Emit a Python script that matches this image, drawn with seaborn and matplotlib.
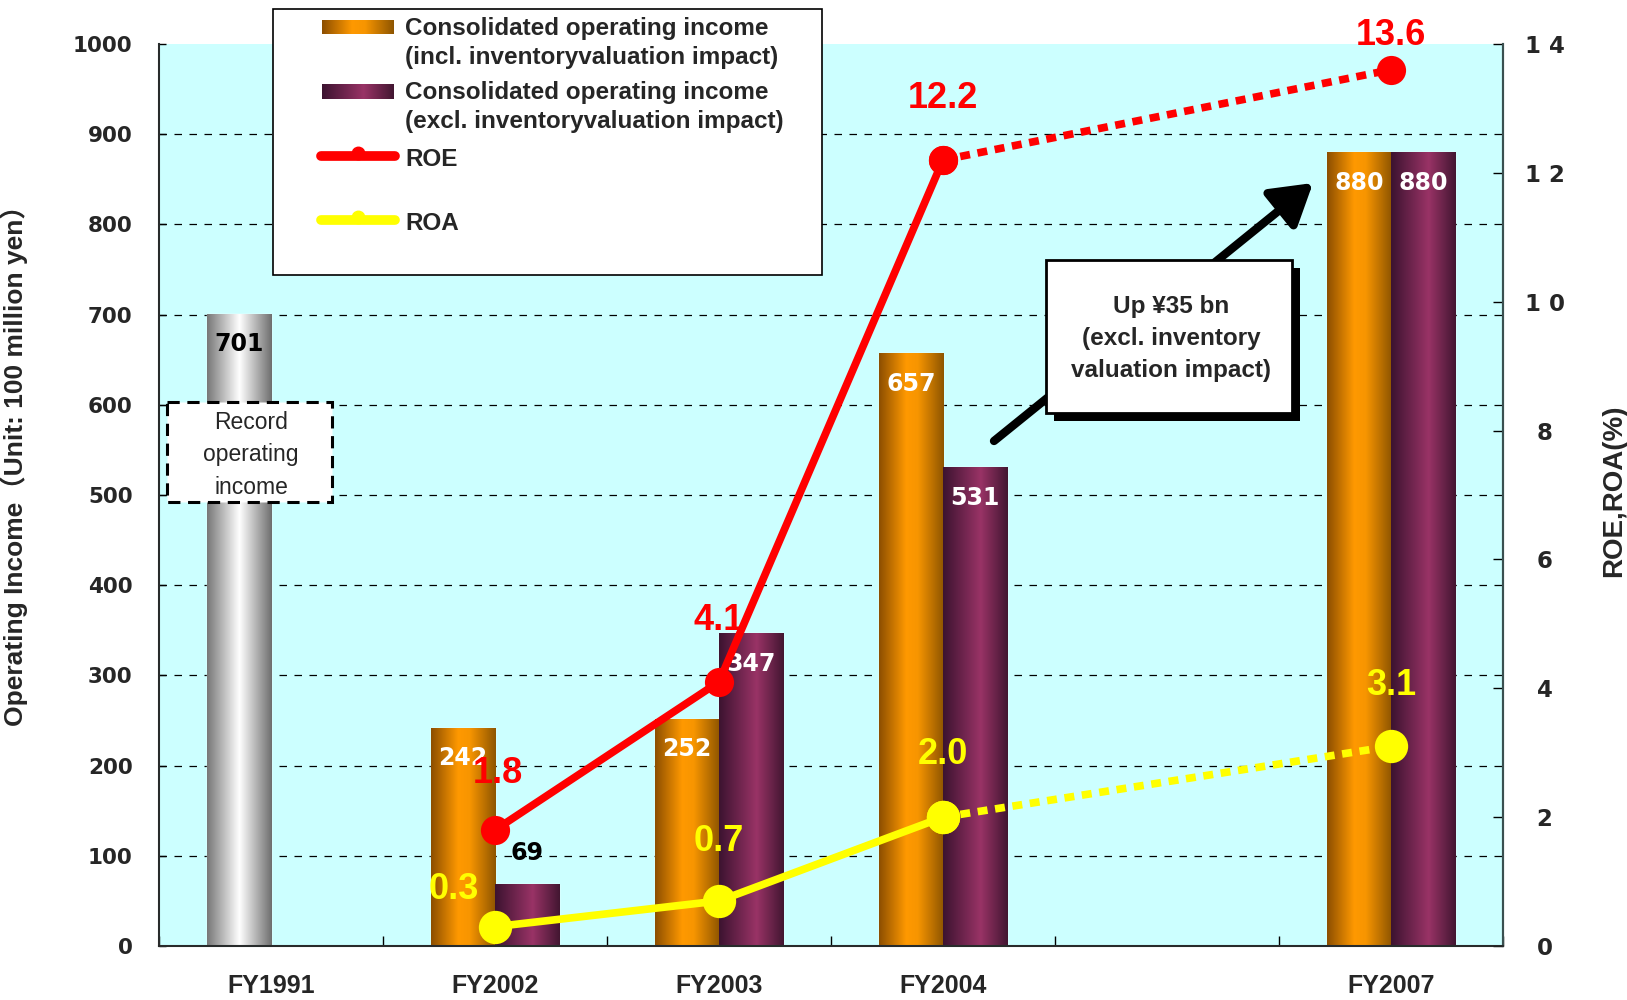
import numpy as np
import pandas as pd
import matplotlib
matplotlib.use("Agg")
import matplotlib.pyplot as plt
import seaborn as sns
from matplotlib.colors import LinearSegmentedColormap
from matplotlib.patches import Rectangle
from matplotlib.lines import Line2D

# ---------------- data ----------------
years = ["FY1991", "FY2002", "FY2003", "FY2004", " ", "FY2007"]
bar_years = ["FY1991", "FY2002", "FY2003", "FY2004", "FY2007"]
income_incl = [701, 242, 252, 657, 880]       # FY1991 = record operating income
income_excl = [None, 69, 347, 531, 880]
ratio_years = ["FY2002", "FY2003", "FY2004", "FY2007"]
roe = [1.8, 4.1, 12.2, 13.6]
roa = [0.3, 0.7, 2.0, 3.1]
left_ticks = list(range(0, 1001, 100))
right_ticks = [0, 2, 4, 6, 8, 10, 12, 14]
right_tick_labels = ["0", "2", "4", "6", "8", "1 0", "1 2", "1 4"]
legend_labels = ["Consolidated operating income\n(incl. inventoryvaluation impact)",
                 "Consolidated operating income\n(excl. inventoryvaluation impact)",
                 "ROE", "ROA"]
ylabel_left = "Operating Income（Unit: 100 million yen）"
ylabel_right = "ROE,ROA(%)"
note_up = "Up ¥35 bn\n(excl. inventory\nvaluation impact)"
note_record = "Record\noperating\nincome"

rows = []
for y, v in zip(bar_years, income_incl):
    rows.append((y, "incl", v))
for y, v in zip(bar_years, income_excl):
    if v is not None:
        rows.append((y, "excl", v))
df = pd.DataFrame(rows, columns=["year", "series", "value"])

# ---------------- style ----------------
sns.set_theme(style="white")
plt.rcParams["font.family"] = ["Liberation Sans", "DejaVu Sans"]

W, H = 1627, 1000
fig = plt.figure(figsize=(W / 100, H / 100), dpi=100)
L, R, T, B = 159, 1503, 44, 946
ax = fig.add_axes([L / W, 1 - B / H, (R - L) / W, (B - T) / H])
ax.set_facecolor("#CCFFFF")
SPINE = "#3A5050"

ORANGE, PURPLE = "#FF9900", "#993366"
sns.barplot(data=df, x="year", y="value", hue="series", order=years,
            hue_order=["incl", "excl"], palette=[ORANGE, PURPLE], width=0.575,
            errorbar=None, saturation=1, legend=False, ax=ax, zorder=2)

cm_orange = LinearSegmentedColormap.from_list(
    "o", [(0, "#8C4E00"), (0.42, "#FF9900"), (0.6, "#F79500"), (1, "#8E5500")])
cm_purple = LinearSegmentedColormap.from_list(
    "p", [(0, "#3C1330"), (0.58, "#993366"), (1, "#421631")])
cm_gray = LinearSegmentedColormap.from_list(
    "g", [(0, "#777777"), (0.5, "#FFFFFF"), (1, "#6E6E6E")])

grad = np.linspace(0, 1, 256).reshape(1, -1)
for ci, cont in enumerate(ax.containers):
    for p in cont:
        h = p.get_height()
        if h is None or np.isnan(h) or h == 0:
            continue
        x0, w = p.get_x(), p.get_width()
        cx = x0 + w / 2
        if ci == 0 and cx < 0.5:
            cmap = cm_gray
        else:
            cmap = cm_orange if ci == 0 else cm_purple
        im = ax.imshow(grad, cmap=cmap, aspect="auto", extent=[x0, x0 + w, 0, h],
                       origin="lower", zorder=2.1, interpolation="bilinear")
        im.set_clip_path(p)
        val = int(round(h))
        if cx < 0.5:
            col, dy = "black", -22
        elif val < 100:
            col, dy = "black", 22
        else:
            col, dy = "white", -22
        ax.annotate(str(val), (cx, h), xytext=(0, dy), textcoords="offset points",
                    ha="center", va="center", color=col, fontsize=17,
                    fontweight="bold", family="DejaVu Sans", zorder=3)

ax.set_xlim(-0.5, 5.5)
ax.set_ylim(0, 1000)
ax.set_yticks(left_ticks)
ax.set_xticks(range(len(years)))
ax.set_xticklabels(years)
ax.set_xticks(np.arange(-0.5, len(years)), minor=True)
ax.tick_params(axis="x", which="major", length=0, pad=20, labelsize=18)
ax.tick_params(axis="x", which="minor", direction="in", length=7, width=1, color="black", bottom=True)
ax.tick_params(axis="y", direction="in", length=5, width=1, color="black", pad=19, labelsize=15.5, left=True)
for t in ax.get_xticklabels():
    t.set_fontweight("bold")
for t in ax.get_yticklabels():
    t.set_fontweight("bold")
    t.set_family("DejaVu Sans")
ax.grid(False)
for gy in left_ticks[1:-1]:
    ax.axhline(gy, color="black", linestyle=(0, (6, 6)), linewidth=0.9, zorder=1)
for s in ["left", "bottom", "right"]:
    ax.spines[s].set_color(SPINE)
    ax.spines[s].set_linewidth(1.5)
ax.spines["top"].set_visible(False)
ax.set_xlabel("")
ax.set_ylabel(ylabel_left, fontsize=19, fontweight="bold",
              family=["Liberation Sans", "Noto Sans CJK JP"])
ax.yaxis.set_label_coords(-0.0975, 0.54)

# ---------------- ratio lines ----------------
ax2 = ax.twinx()
pos = [years.index(y) for y in ratio_years]
lw = 5.5
sns.lineplot(x=pos[:3], y=roe[:3], ax=ax2, color="red", linewidth=lw, marker="o",
             markersize=21, markeredgewidth=0, zorder=5)
sns.lineplot(x=pos[2:], y=roe[2:], ax=ax2, color="red", linewidth=lw, marker="o",
             markersize=21, markeredgewidth=0, linestyle=(0, (1.3, 1.0)), zorder=5)
sns.lineplot(x=pos[:3], y=roa[:3], ax=ax2, color="#FFFF00", linewidth=lw, marker="o",
             markersize=24, markeredgewidth=0, zorder=4)
sns.lineplot(x=pos[2:], y=roa[2:], ax=ax2, color="#FFFF00", linewidth=lw, marker="o",
             markersize=24, markeredgewidth=0, linestyle=(0, (1.3, 1.0)), zorder=4)
for line in ax2.get_lines():
    line.set_dash_capstyle("butt")

roe_off = [(2, 41), (0, 44), (0, 44), (0, 25)]
roa_off = [(-30, 27), (0, 43), (0, 45), (0, 44)]
for x, v, o in zip(pos, roe, roe_off):
    ax2.annotate(f"{v:.1f}", (x, v), xytext=o, textcoords="offset points", ha="center",
                 va="center", color="red", fontsize=26, fontweight="bold", zorder=6)
for x, v, o in zip(pos, roa, roa_off):
    ax2.annotate(f"{v:.1f}", (x, v), xytext=o, textcoords="offset points", ha="center",
                 va="center", color="#FFFF00", fontsize=26, fontweight="bold", zorder=6)

ax2.set_xlim(-0.5, 5.5)
ax2.set_ylim(0, 14)
ax2.set_yticks(right_ticks)
ax2.set_yticklabels(right_tick_labels)
ax2.tick_params(axis="y", direction="in", length=7, width=1, color="black", pad=30,
                labelsize=16.5, right=True)
for t in ax2.get_yticklabels():
    t.set_fontweight("bold")
    t.set_family("DejaVu Sans")
    t.set_ha("center")
ax2.spines["top"].set_visible(False)
ax2.spines["right"].set_color(SPINE)
ax2.spines["right"].set_linewidth(1.5)
ax2.set_xlabel("")
ax2.set_ylabel(ylabel_right, fontsize=20, fontweight="bold", rotation=90)
ax2.yaxis.set_label_coords(1.073, 0.505)
ax2.grid(False)

# ---------------- overlay (legend, notes) in pixel coords ----------------
ov = fig.add_axes([0, 0, 1, 1])
ov.set_xlim(0, W)
ov.set_ylim(H, 0)
ov.axis("off")

ov.annotate("", xy=(1313, 183), xytext=(994, 441),
            arrowprops=dict(arrowstyle="-|>,head_length=0.9,head_width=0.55",
                            lw=6, color="black", shrinkA=0, shrinkB=0,
                            mutation_scale=27), zorder=2)
ov.add_patch(Rectangle((1054, 268), 246, 153, facecolor="black", edgecolor="none", zorder=3))
ov.add_patch(Rectangle((1046, 260), 246, 153, facecolor="white", edgecolor="black", lw=2, zorder=4))
ov.text(1171, 338, note_up, ha="center", va="center", fontsize=17.5, fontweight="bold",
        linespacing=1.5, zorder=5)

ov.add_patch(Rectangle((167, 402), 165, 100, facecolor="white", edgecolor="black", lw=2.2,
                       linestyle=(0, (4, 2.5)), zorder=4))
ov.text(251, 455, note_record, ha="center", va="center", fontsize=16.5, linespacing=1.55, zorder=5)

# legend
ov.add_patch(Rectangle((273, 9), 549, 266, facecolor="white", edgecolor="black", lw=1.2, zorder=4))
for (y0, y1), cmap in [((20, 34), cm_orange), ((84, 99), cm_purple)]:
    ov.imshow(grad, cmap=cmap, aspect="auto", extent=(322, 394, y1, y0),
              origin="lower", zorder=5, interpolation="bilinear")
for y, c in [(156, "red"), (220, "#FFFF00")]:
    ov.add_line(Line2D([321, 395], [y, y], lw=7, color=c, solid_capstyle="round", zorder=5))
    ov.add_line(Line2D([358], [y - 3], marker="o", markersize=9, color=c, lw=0, zorder=5))
ov.text(405, 43, legend_labels[0], ha="left", va="center", fontsize=17.5, fontweight="bold",
        linespacing=1.33, zorder=6)
ov.text(405, 107, legend_labels[1], ha="left", va="center", fontsize=17.5, fontweight="bold",
        linespacing=1.33, zorder=6)
ov.text(405, 160, legend_labels[2], ha="left", va="center", fontsize=17.5, fontweight="bold", zorder=6)
ov.text(405, 223, legend_labels[3], ha="left", va="center", fontsize=17.5, fontweight="bold", zorder=6)
ov.set_xlim(0, W)
ov.set_ylim(H, 0)

fig.savefig("out.png", dpi=100, facecolor="white")
